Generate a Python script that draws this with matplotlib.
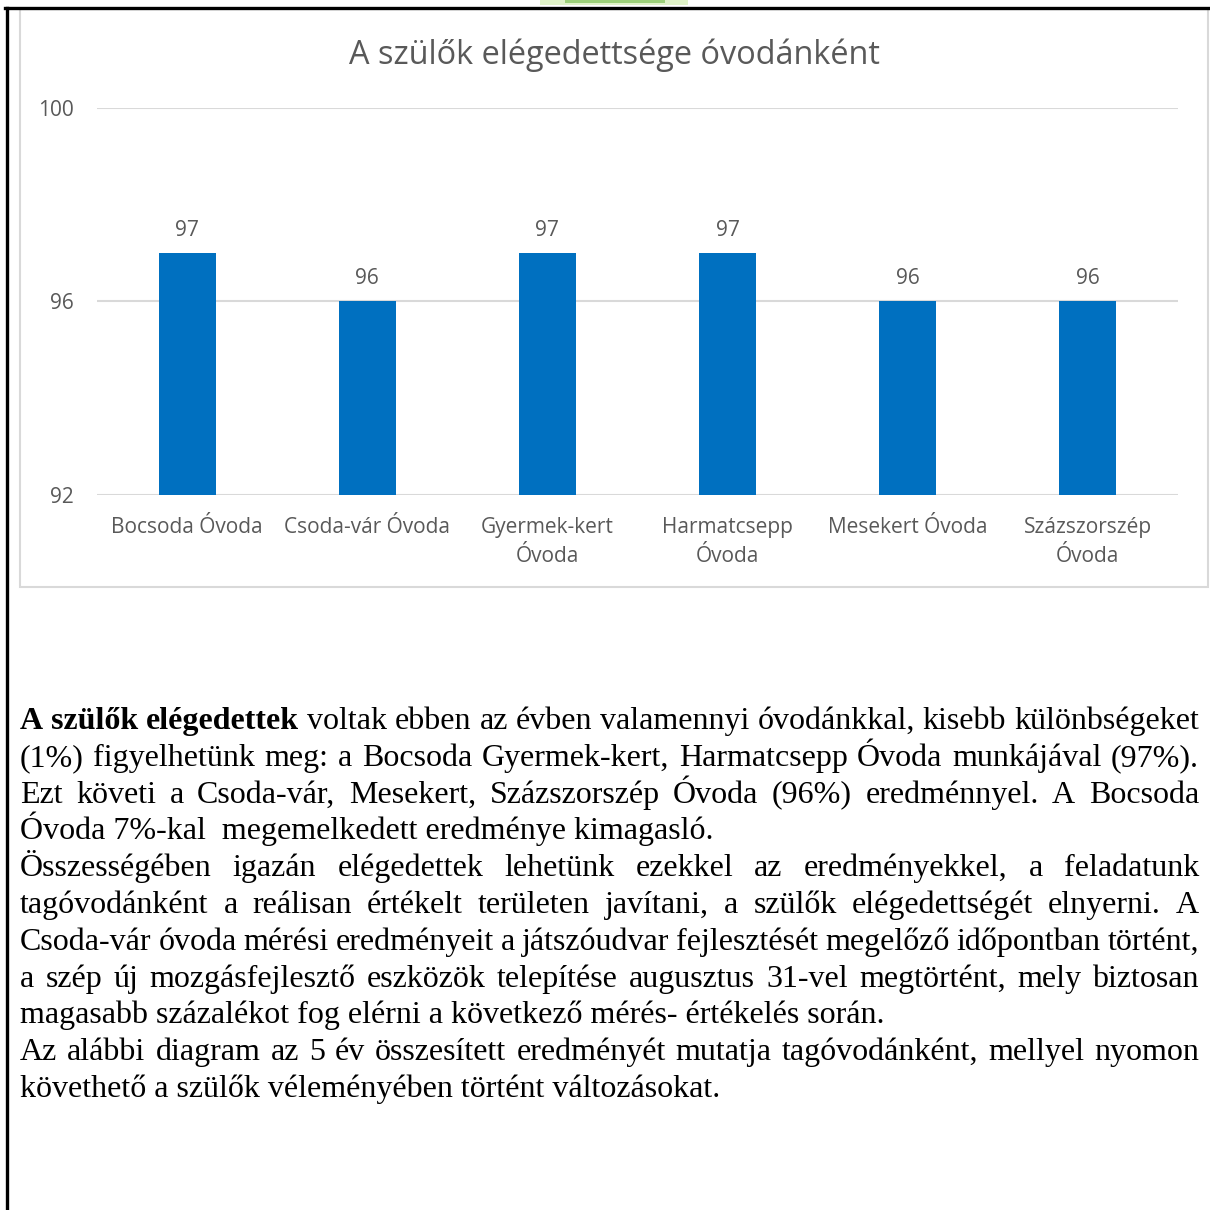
import matplotlib.pyplot as plt
from matplotlib.patches import Rectangle
from matplotlib.lines import Line2D

# adatok
ovodak = ['Bocsoda Óvoda', 'Csoda-vár Óvoda', 'Gyermek-kert\nÓvoda',
          'Harmatcsepp\nÓvoda', 'Mesekert Óvoda', 'Százszorszép\nÓvoda']
ertekek = [97, 96, 97, 97, 96, 96]
y_ticks = [92, 96, 100]
cim = 'A szülők elégedettsége óvodánként'

# szöveg sorai (sor, sorkizárt?)
sorok = [
    ('A szülők elégedettek voltak ebben az évben valamennyi óvodánkkal, kisebb különbségeket', True),
    ('(1%) figyelhetünk meg: a Bocsoda Gyermek-kert, Harmatcsepp Óvoda munkájával (97%).', True),
    ('Ezt követi a Csoda-vár, Mesekert, Százszorszép Óvoda (96%) eredménnyel. A Bocsoda', True),
    ('Óvoda 7%-kal  megemelkedett eredménye kimagasló.', False),
    ('Összességében igazán elégedettek lehetünk ezekkel az eredményekkel, a feladatunk', True),
    ('tagóvodánként a reálisan értékelt területen javítani, a szülők elégedettségét elnyerni. A', True),
    ('Csoda-vár óvoda mérési eredményeit a játszóudvar fejlesztését megelőző időpontban történt,', True),
    ('a szép új mozgásfejlesztő eszközök telepítése augusztus 31-vel megtörtént, mely biztosan', True),
    ('magasabb százalékot fog elérni a következő mérés- értékelés során.', False),
    ('Az alábbi diagram az 5 év összesített eredményét mutatja tagóvodánként, mellyel nyomon', True),
    ('követhető a szülők véleményében történt változásokat.', False),
]
felkover = 3  # az első sor első 3 szava félkövér

W = H = 1210
fig = plt.figure(figsize=(12.1, 12.1), dpi=100)
szurke = '#595959'
betu = 'Open Sans'

def fy(y):
    return 1 - y / H

def fx(x):
    return x / W

# keretek
fig.add_artist(Line2D([fx(5), 1], [fy(8), fy(8)], color='black', lw=2.4))
fig.add_artist(Line2D([fx(6.5), fx(6.5)], [fy(8), 0], color='black', lw=2.4))
fig.add_artist(Rectangle((fx(20), fy(587)), fx(1208) - fx(20), fy(9) - fy(587),
                         fill=False, edgecolor='#d9d9d9', lw=1.5))
fig.add_artist(Rectangle((fx(540), fy(5)), fx(148), 5 / H, color='#dff2c8', lw=0))
fig.add_artist(Rectangle((fx(565), fy(3)), fx(100), 3 / H, color='#9cd07a', lw=0))

# diagram
ax = fig.add_axes([fx(97), fy(495), fx(1178) - fx(97), fy(108) - fy(495)])
x = range(len(ovodak))
bars = ax.bar(x, ertekek, width=0.316, color='#0070c0', zorder=3)
ax.bar_label(bars, padding=9, color=szurke, fontsize=15, family=betu)
ax.set_ylim(92, 100)
ax.set_xlim(-0.5, len(ovodak) - 0.5)
ax.set_yticks(y_ticks)
ax.set_yticklabels([str(v) for v in y_ticks], family=betu, fontsize=15, color=szurke)
ax.set_xticks(list(x))
ax.set_xticklabels(ovodak, family=betu, fontsize=15, color=szurke, linespacing=1.5)
ax.tick_params(length=0, pad=17)
ax.tick_params(axis='x', pad=16)
ax.grid(axis='y', color='#d9d9d9', lw=1.5, zorder=0)
for s in ax.spines.values():
    s.set_visible(False)
ax.set_facecolor('none')
fig.text(fx(614), fy(55), cim, ha='center', va='center', family=betu,
         fontsize=23.4, color=szurke)

# szöveg, sorkizárással
renderer = fig.canvas.get_renderer()
bal, jobb = 20, 1199
meret = 23

def szel(szo, bold):
    t = fig.text(0, 0, szo, family='Liberation Serif', fontsize=meret,
                 weight='bold' if bold else 'normal')
    w = t.get_window_extent(renderer).width
    t.remove()
    return w

for i, (sor, kizart) in enumerate(sorok):
    y = fy(729 + i * 36.8)
    szavak = sor.split(' ')
    if not kizart:
        fig.text(fx(bal), y, sor, family='Liberation Serif', fontsize=meret,
                 va='baseline', color='black')
        continue
    vastag = [i == 0 and k < felkover for k in range(len(szavak))]
    w = [szel(s, b) for s, b in zip(szavak, vastag)]
    koz = (jobb - bal - sum(w)) / (len(szavak) - 1)
    xp = bal
    for s, b, ww in zip(szavak, vastag, w):
        fig.text(fx(xp), y, s, family='Liberation Serif', fontsize=meret,
                 va='baseline', weight='bold' if b else 'normal', color='black')
        xp += ww + koz

fig.savefig('out.png', dpi=100)
